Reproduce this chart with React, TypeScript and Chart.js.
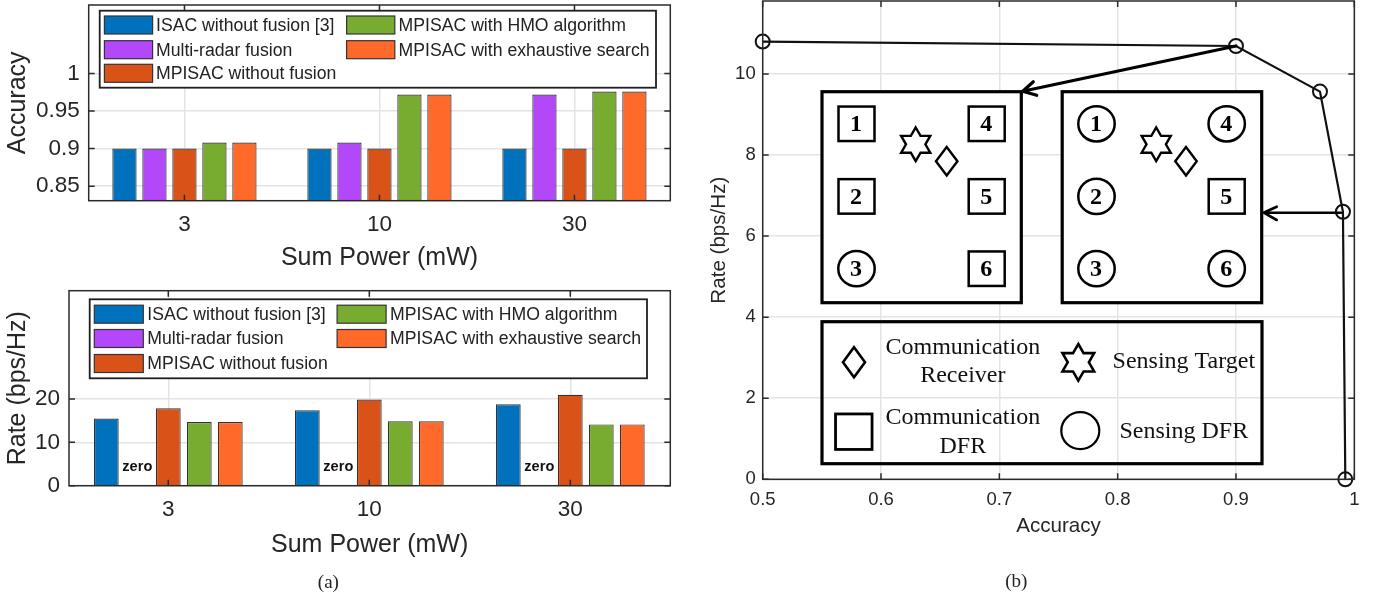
import React, { useEffect, useRef } from "react";
import { Chart, registerables } from "chart.js";

Chart.register(...registerables);

const categories = ["3", "10", "30"];
const seriesNames = [
  "ISAC without fusion [3]",
  "Multi-radar fusion",
  "MPISAC without fusion",
  "MPISAC with HMO algorithm",
  "MPISAC with exhaustive search",
];
const seriesColors = ["#0072BD", "#B347FA", "#D95319", "#77AC30", "#FF6929"];

const accIsac = [0.9, 0.9, 0.9];
const accRadar = [0.9, 0.908, 0.972];
const accNoFusion = [0.9, 0.9, 0.9];
const accHmo = [0.908, 0.972, 0.976];
const accExhaustive = [0.908, 0.972, 0.976];

const rateIsac = [15.5, 17.4, 18.8];
const rateRadar = [0, 0, 0];
const rateNoFusion = [17.85, 19.9, 21];
const rateHmo = [14.7, 14.85, 14.15];
const rateExhaustive = [14.7, 14.85, 14.15];

const accTicks = [0.85, 0.9, 0.95, 1];
const rateTicks = [0, 10, 20];

const curveAccuracy = [0.5, 0.9, 0.971, 0.9904, 0.9924];
const curveRate = [10.8, 10.69, 9.565, 6.6, 0];
const tradeoffXTicks = [0.5, 0.6, 0.7, 0.8, 0.9, 1];
const tradeoffYTicks = [0, 2, 4, 6, 8, 10];

const SANS = "'Liberation Sans', Arial, sans-serif";
const SERIF = "'Liberation Serif', 'Times New Roman', serif";
const TEXT = "#262626";
const GRID = "#e4e4e4";
const FRAME = "#2b2b2b";

const framePlugin = {
  id: "frame",
  afterDatasetsDraw(chart: any) {
    const { ctx, chartArea: a, scales } = chart;
    ctx.save();
    ctx.strokeStyle = FRAME;
    ctx.lineWidth = 1.5;
    ctx.beginPath();
    const len = 6;
    for (const t of scales.x.ticks) {
      const p = scales.x.getPixelForValue(t.value);
      ctx.moveTo(p, a.top);
      ctx.lineTo(p, a.top + len);
      ctx.moveTo(p, a.bottom);
      ctx.lineTo(p, a.bottom - len);
    }
    for (const t of scales.y.ticks) {
      const p = scales.y.getPixelForValue(t.value);
      ctx.moveTo(a.left, p);
      ctx.lineTo(a.left + len, p);
      ctx.moveTo(a.right, p);
      ctx.lineTo(a.right - len, p);
    }
    ctx.stroke();
    ctx.strokeRect(a.left, a.top, a.right - a.left, a.bottom - a.top);
    ctx.restore();
  },
};

type LegendBox = {
  box: [number, number, number, number];
  col: [number, number];
  swatchW: number;
  swatchH: number;
  textX: [number, number];
  rows: [number, number, number];
};

function legendPlugin(l: LegendBox) {
  return {
    id: "customLegend",
    afterDraw(chart: any) {
      const { ctx } = chart;
      ctx.save();
      const [x0, y0, x1, y1] = l.box;
      ctx.fillStyle = "#ffffff";
      ctx.fillRect(x0, y0, x1 - x0, y1 - y0);
      ctx.strokeStyle = "#1f1f1f";
      ctx.lineWidth = 1.8;
      ctx.strokeRect(x0, y0, x1 - x0, y1 - y0);
      const slots = [[0, 0], [0, 1], [0, 2], [1, 0], [1, 1]];
      ctx.font = `17.65px ${SANS}`;
      ctx.textBaseline = "middle";
      ctx.textAlign = "left";
      seriesNames.forEach((name, i) => {
        const [c, r] = slots[i];
        const cy = l.rows[r];
        ctx.fillStyle = seriesColors[i];
        ctx.fillRect(l.col[c], cy - l.swatchH / 2, l.swatchW, l.swatchH);
        ctx.strokeStyle = "#333333";
        ctx.lineWidth = 1.2;
        ctx.strokeRect(l.col[c], cy - l.swatchH / 2, l.swatchW, l.swatchH);
        ctx.fillStyle = "#222222";
        ctx.fillText(name, l.textX[c], cy + 1);
      });
      ctx.restore();
    },
  };
}

const zeroLabelPlugin = {
  id: "zeroLabels",
  afterDatasetsDraw(chart: any) {
    const { ctx, scales } = chart;
    const meta = chart.getDatasetMeta(1);
    ctx.save();
    ctx.font = `bold 14.6px ${SANS}`;
    ctx.fillStyle = "#111111";
    ctx.textAlign = "center";
    ctx.textBaseline = "middle";
    meta.data.forEach((bar: any) => {
      ctx.fillText("zero", bar.x, scales.y.getPixelForValue(4.3));
    });
    ctx.restore();
  },
};

function hexagram(ctx: any, cx: number, cy: number, R: number, lw: number) {
  const r = R / Math.sqrt(3);
  ctx.lineWidth = lw;
  ctx.lineJoin = "miter";
  ctx.beginPath();
  for (let i = 0; i < 12; i++) {
    const a = -Math.PI / 2 + (i * Math.PI) / 6;
    const rad = i % 2 === 0 ? R : r;
    const px = cx + rad * Math.cos(a);
    const py = cy + rad * Math.sin(a);
    if (i === 0) ctx.moveTo(px, py);
    else ctx.lineTo(px, py);
  }
  ctx.closePath();
  ctx.stroke();
}

function diamond(ctx: any, cx: number, cy: number, w: number, h: number, lw: number) {
  ctx.lineWidth = lw;
  ctx.beginPath();
  ctx.moveTo(cx, cy - h / 2);
  ctx.lineTo(cx + w / 2, cy);
  ctx.lineTo(cx, cy + h / 2);
  ctx.lineTo(cx - w / 2, cy);
  ctx.closePath();
  ctx.stroke();
}

function ring(ctx: any, cx: number, cy: number, rx: number, ry: number, lw: number) {
  ctx.lineWidth = lw;
  ctx.beginPath();
  ctx.ellipse(cx, cy, rx, ry, 0, 0, Math.PI * 2);
  ctx.stroke();
}

function square(ctx: any, cx: number, cy: number, w: number, h: number, lw: number) {
  ctx.lineWidth = lw;
  ctx.strokeRect(cx - w / 2, cy - h / 2, w, h);
}

function arrow(
  ctx: any,
  from: [number, number],
  tip: [number, number],
  barbA: [number, number],
  barbB: [number, number],
  lw: number
) {
  ctx.lineWidth = lw;
  ctx.lineCap = "round";
  ctx.beginPath();
  ctx.moveTo(from[0], from[1]);
  ctx.lineTo(tip[0], tip[1]);
  ctx.moveTo(barbA[0], barbA[1]);
  ctx.lineTo(tip[0], tip[1]);
  ctx.lineTo(barbB[0], barbB[1]);
  ctx.stroke();
  ctx.lineCap = "butt";
}

// Diagram overlay of panel (b); its canvas starts at page x = 700.
const OX = 700;
const diagramPlugin = {
  id: "diagram",
  afterDraw(chart: any) {
    const { ctx, scales } = chart;
    const X = (v: number) => v - OX;
    ctx.save();
    ctx.strokeStyle = "#000000";
    ctx.fillStyle = "#000000";

    const panels: { left: number; right: number; colA: number; colB: number; shapes: string[] }[] = [
      { left: 822, right: 1021.3, colA: 856.5, colB: 986.7, shapes: ["s", "s", "c", "s", "s", "s"] },
      { left: 1062.2, right: 1261.7, colA: 1096.5, colB: 1226.7, shapes: ["c", "c", "c", "c", "s", "c"] },
    ];
    const rowsY = [123.8, 196.4, 268.7];
    panels.forEach((p, k) => {
      ctx.fillStyle = "#ffffff";
      ctx.fillRect(X(p.left), 91.7, p.right - p.left, 211);
      ctx.fillStyle = "#000000";
      ctx.lineWidth = 3.2;
      ctx.strokeRect(X(p.left), 91.7, p.right - p.left, 211);
      p.shapes.forEach((s, i) => {
        const cx = X(i < 3 ? p.colA : p.colB);
        const cy = rowsY[i % 3];
        if (s === "s") square(ctx, cx, cy, 36, 34.5, 2.5);
        else ring(ctx, cx, cy, 18.2, 17.6, 2.5);
        ctx.font = `bold 24px ${SERIF}`;
        ctx.textAlign = "center";
        ctx.textBaseline = "middle";
        ctx.fillText(String(i + 1), cx - 0.5, cy + 1);
      });
      const starX = k === 0 ? 915.7 : 1156.2;
      const dmX = k === 0 ? 946.7 : 1186;
      hexagram(ctx, X(starX), 144.3, 16.8, 2.4);
      diamond(ctx, X(dmX), 161.3, 21.5, 28.5, 2.4);
    });

    ctx.lineWidth = 3.2;
    ctx.strokeRect(X(822), 321.7, 1262 - 822, 142);
    diamond(ctx, X(854), 362.3, 22, 30, 2.6);
    hexagram(ctx, X(1078.3), 362.3, 18.3, 2.6);
    square(ctx, X(853.8), 431.7, 36.5, 35.5, 2.8);
    ring(ctx, X(1080.3), 430.7, 19, 18.5, 2.2);

    ctx.font = `24px ${SERIF}`;
    ctx.textAlign = "center";
    ctx.textBaseline = "middle";
    ctx.fillStyle = "#111111";
    ctx.fillText("Communication", X(962.8), 347.7);
    ctx.fillText("Receiver", X(962.8), 376);
    ctx.fillText("Communication", X(962.8), 417.7);
    ctx.fillText("DFR", X(962.8), 447);
    ctx.fillText("Sensing Target", X(1183.8), 361.7);
    ctx.fillText("Sensing DFR", X(1183.8), 431.5);

    const px = (i: number): [number, number] => [
      scales.x.getPixelForValue(curveAccuracy[i]),
      scales.y.getPixelForValue(curveRate[i]),
    ];
    arrow(ctx, px(1), [X(1022.7), 91.2], [X(1036.7), 95.3], [X(1033.3), 81.7], 3.2);
    const p3 = px(3);
    arrow(ctx, [p3[0] - 2, 212.7], [X(1263.7), 212.7], [X(1276.7), 206.7], [X(1276.7), 220], 2.6);
    ctx.restore();
  },
};

function fixedAxes(yW: number, xH: number) {
  const clearPadding = (scale: any) => {
    scale.paddingTop = 0;
    scale.paddingBottom = 0;
    scale.paddingLeft = 0;
    scale.paddingRight = 0;
  };
  return {
    y: (scale: any) => {
      scale.width = yW;
      clearPadding(scale);
    },
    x: (scale: any) => {
      scale.height = xH;
      clearPadding(scale);
    },
  };
}

function barConfig(opts: {
  series: number[][];
  yMin: number;
  yMax: number;
  yTicks: number[];
  yTitle: string;
  xMin: number;
  xMax: number;
  catPct: number;
  barPct: number;
  padding: any;
  yWidth: number;
  xHeight: number;
  tickPad: number;
  titleBottom: number;
  plugins: any[];
}) {
  const fit = fixedAxes(opts.yWidth, opts.xHeight);
  return {
    type: "bar",
    data: {
      datasets: opts.series.map((vals, i) => ({
        label: seriesNames[i],
        data: vals.map((v, k) => ({ x: k + 1, y: v })),
        backgroundColor: seriesColors[i],
        borderColor: "#333333",
        borderWidth: 1.2,
        categoryPercentage: opts.catPct,
        barPercentage: opts.barPct,
      })),
    },
    options: {
      animation: false,
      responsive: false,
      devicePixelRatio: 1,
      layout: { padding: opts.padding, autoPadding: false },
      plugins: { legend: { display: false }, tooltip: { enabled: false } },
      scales: {
        x: {
          type: "linear",
          offset: false,
          min: opts.xMin,
          max: opts.xMax,
          afterFit: fit.x,
          afterBuildTicks: (s: any) => {
            s.ticks = categories.map((_, i) => ({ value: i + 1 }));
          },
          grid: { color: GRID, lineWidth: 1.5, drawTicks: false, offset: false },
          border: { display: false },
          ticks: {
            padding: opts.tickPad,
            autoSkip: false,
            maxRotation: 0,
            color: TEXT,
            font: { family: SANS, size: 22.5 },
            callback: (v: number) => categories[v - 1],
          },
          title: {
            display: true,
            text: "Sum Power (mW)",
            color: TEXT,
            font: { family: SANS, size: 25 },
            padding: { top: 0, bottom: opts.titleBottom },
          },
        },
        y: {
          min: opts.yMin,
          max: opts.yMax,
          afterFit: fit.y,
          afterBuildTicks: (s: any) => {
            s.ticks = opts.yTicks.map((v) => ({ value: v }));
          },
          grid: { color: GRID, lineWidth: 1.5, drawTicks: false },
          border: { display: false },
          ticks: {
            padding: 9,
            autoSkip: false,
            color: TEXT,
            font: { family: SANS, size: 22.5 },
            callback: (v: number) => String(v),
          },
          title: {
            display: true,
            text: opts.yTitle,
            color: TEXT,
            font: { family: SANS, size: 25 },
            padding: { top: 3.5, bottom: 0 },
          },
        },
      },
    },
    plugins: opts.plugins,
  };
}

function tradeoffConfig() {
  const fit = fixedAxes(62.7, 115.7);
  return {
    type: "line",
    data: {
      datasets: [
        {
          label: "Rate vs Accuracy",
          data: curveAccuracy.map((x, i) => ({ x, y: curveRate[i] })),
          borderColor: "#111111",
          borderWidth: 2.2,
          tension: 0,
          fill: false,
          clip: false,
          pointStyle: "circle",
          pointRadius: 7,
          pointBorderWidth: 2,
          pointBorderColor: "#111111",
          pointBackgroundColor: "rgba(0,0,0,0)",
        },
      ],
    },
    options: {
      animation: false,
      responsive: false,
      devicePixelRatio: 1,
      layout: { padding: { top: 1, right: 25.7 }, autoPadding: false },
      plugins: { legend: { display: false }, tooltip: { enabled: false } },
      scales: {
        x: {
          type: "linear",
          min: 0.5,
          max: 1,
          afterFit: fit.x,
          afterBuildTicks: (s: any) => {
            s.ticks = tradeoffXTicks.map((v) => ({ value: v }));
          },
          grid: { color: GRID, lineWidth: 1.5, drawTicks: false },
          border: { display: false },
          ticks: {
            padding: 10,
            autoSkip: false,
            maxRotation: 0,
            color: TEXT,
            font: { family: SANS, size: 18.5 },
            callback: (v: number) => String(v),
          },
          title: {
            display: true,
            text: "Accuracy",
            color: TEXT,
            font: { family: SANS, size: 20.6 },
            padding: { top: 0, bottom: 56 },
          },
        },
        y: {
          min: 0,
          max: 11.8,
          afterFit: fit.y,
          afterBuildTicks: (s: any) => {
            s.ticks = tradeoffYTicks.map((v) => ({ value: v }));
          },
          grid: { color: GRID, lineWidth: 1.5, drawTicks: false },
          border: { display: false },
          ticks: {
            padding: 7,
            autoSkip: false,
            color: TEXT,
            font: { family: SANS, size: 18.5 },
            callback: (v: number) => String(v),
          },
          title: {
            display: true,
            text: "Rate (bps/Hz)",
            color: TEXT,
            font: { family: SANS, size: 20.6 },
            padding: { top: 7, bottom: 0 },
          },
        },
      },
    },
    plugins: [framePlugin, diagramPlugin],
  };
}

const canvasStyle = (left: number, top: number): React.CSSProperties => ({
  position: "absolute",
  left,
  top,
  display: "block",
});

const captionStyle = (cx: number, cy: number): React.CSSProperties => ({
  position: "absolute",
  left: cx - 30,
  top: cy - 12,
  width: 60,
  height: 24,
  lineHeight: "24px",
  textAlign: "center",
  fontFamily: SERIF,
  fontSize: 19,
  color: "#222",
});

export default function App() {
  const topRef = useRef<HTMLCanvasElement>(null);
  const bottomRef = useRef<HTMLCanvasElement>(null);
  const rightRef = useRef<HTMLCanvasElement>(null);

  useEffect(() => {
    const top = new Chart(
      topRef.current as any,
      barConfig({
        series: [accIsac, accRadar, accNoFusion, accHmo, accExhaustive],
        yMin: 0.8307,
        yMax: 1.091,
        yTicks: accTicks,
        yTitle: "Accuracy",
        xMin: 0.509,
        xMax: 3.4916,
        catPct: 0.769,
        barPct: 0.81,
        padding: { top: 5, right: 19.7 },
        yWidth: 88.7,
        xHeight: 79.3,
        tickPad: 11,
        titleBottom: 7,
        plugins: [
          framePlugin,
          legendPlugin({
            box: [99.7, 10.7, 656, 87.7],
            col: [104.4, 346.6],
            swatchW: 48.2,
            swatchH: 18,
            textX: [156, 398.6],
            rows: [25, 49.7, 73.3],
          }),
        ],
      }) as any
    );
    const bottom = new Chart(
      bottomRef.current as any,
      barConfig({
        series: [rateIsac, rateRadar, rateNoFusion, rateHmo, rateExhaustive],
        yMin: 0,
        yMax: 45,
        yTicks: rateTicks,
        yTitle: "Rate (bps/Hz)",
        xMin: 0.506,
        xMax: 3.4976,
        catPct: 0.771,
        barPct: 0.8,
        padding: { top: 10.7, right: 19.7 },
        yWidth: 69,
        xHeight: 109.3,
        tickPad: 11,
        titleBottom: 35,
        plugins: [
          framePlugin,
          zeroLabelPlugin,
          legendPlugin({
            box: [89.7, 19.3, 647, 98.3],
            col: [94.3, 337.1],
            swatchW: 49,
            swatchH: 18,
            textX: [147.3, 390],
            rows: [34.2, 58.5, 83.5],
          }),
        ],
      }) as any
    );
    const right = new Chart(rightRef.current as any, tradeoffConfig() as any);
    return () => {
      top.destroy();
      bottom.destroy();
      right.destroy();
    };
  }, []);

  return (
    <div
      style={{
        position: "absolute",
        left: 0,
        top: 0,
        width: 1380,
        height: 595,
        overflow: "hidden",
        background: "#fff",
      }}
    >
      <canvas ref={topRef} width={690} height={280} style={canvasStyle(0, 0)} />
      <canvas ref={bottomRef} width={690} height={315} style={canvasStyle(0, 280)} />
      <canvas ref={rightRef} width={680} height={595} style={canvasStyle(700, 0)} />
      <div style={captionStyle(328.4, 581.7)}>(a)</div>
      <div style={captionStyle(1016.3, 581)}>(b)</div>
    </div>
  );
}
